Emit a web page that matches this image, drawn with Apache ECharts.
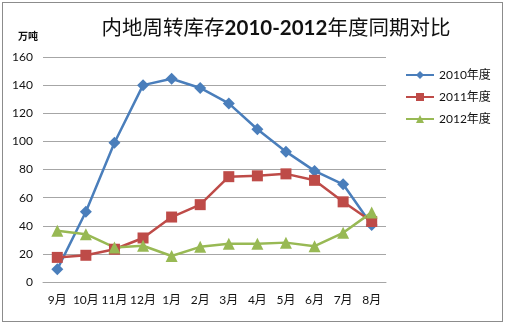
<!DOCTYPE html>
<html>
<head>
<meta charset="utf-8">
<script src="https://cdn.jsdelivr.net/npm/echarts@6/dist/echarts.min.js"></script>
<style>
  html, body { margin: 0; padding: 0; background: #fff; }
  #frame { position: absolute; left: 2px; top: 2px; width: 499px; height: 318px; border: 1px solid #8c8c8c; }
  #chart { position: absolute; left: 0; top: 0; width: 505px; height: 324px; }
</style>
</head>
<body>
<div id="frame"></div>
<div id="chart"></div>
<script>
// Monthly inventory (万吨), Sep → Aug
const months = ['9月', '10月', '11月', '12月', '1月', '2月', '3月', '4月', '5月', '6月', '7月', '8月'];
const y2010 = [9, 50, 99, 140, 144.5, 138, 127, 108.6, 92.7, 79, 69.5, 40.5];
const y2011 = [17.5, 19, 23.3, 31.3, 46.2, 55, 74.9, 75.5, 76.9, 72.3, 57, 43];
const y2012 = [36.5, 34, 24.6, 25.8, 18.5, 25, 27.2, 27.2, 28, 25.5, 35, 49.5];
const seriesNames = ['2010年度', '2011年度', '2012年度'];
const yTicks = { min: 0, max: 160, step: 20 };

const font = "Lato, 'Noto Sans CJK SC', sans-serif";
const chart = echarts.init(document.getElementById('chart'));

function lineSeries(name, data, color, symbol, size) {
  return {
    name, type: 'line', data, symbol, symbolSize: size,
    lineStyle: { color, width: 2.5 },
    itemStyle: { color },
    animation: false
  };
}

chart.setOption({
  backgroundColor: 'transparent',
  title: [
    {
      text: '{a|内地周转库存}{b|2010-2012}{a|年度同期对比}',
      left: 271, top: 13, textAlign: 'center',
      textStyle: {
        rich: {
          a: { fontFamily: font, fontSize: 20.5, fontWeight: 'normal', color: '#111' },
          b: { fontFamily: font, fontSize: 20.5, fontWeight: 'bold', color: '#111' }
        }
      }
    },
    {
      text: '万吨',
      left: 13, top: 27,
      textStyle: { fontFamily: font, fontSize: 10, fontWeight: 'bold', color: '#111' }
    }
  ],
  grid: { left: 43, right: 119, top: 57, bottom: 42 },
  legend: {
    orient: 'vertical', left: 400, top: 64,
    itemWidth: 28, itemHeight: 10, itemGap: 10,
    textStyle: { fontFamily: font, fontSize: 12, color: '#111' },
    data: seriesNames
  },
  xAxis: {
    type: 'category', data: months, boundaryGap: true,
    axisLine: { lineStyle: { color: '#a6a6a6' } },
    axisTick: { show: false },
    axisLabel: { interval: 0, fontFamily: font, fontSize: 12, color: '#111', margin: 12 }
  },
  yAxis: {
    type: 'value', min: yTicks.min, max: yTicks.max, interval: yTicks.step,
    axisLine: { show: false },
    axisTick: { show: false },
    splitLine: { lineStyle: { color: '#a6a6a6' } },
    axisLabel: { fontFamily: font, fontSize: 12, color: '#111', margin: 10 }
  },
  series: [
    lineSeries(seriesNames[0], y2010, '#4a7ebb', 'diamond', 12),
    lineSeries(seriesNames[1], y2011, '#be4b48', 'rect', 11),
    lineSeries(seriesNames[2], y2012, '#98b954', 'triangle', 12)
  ]
});
</script>
</body>
</html>
